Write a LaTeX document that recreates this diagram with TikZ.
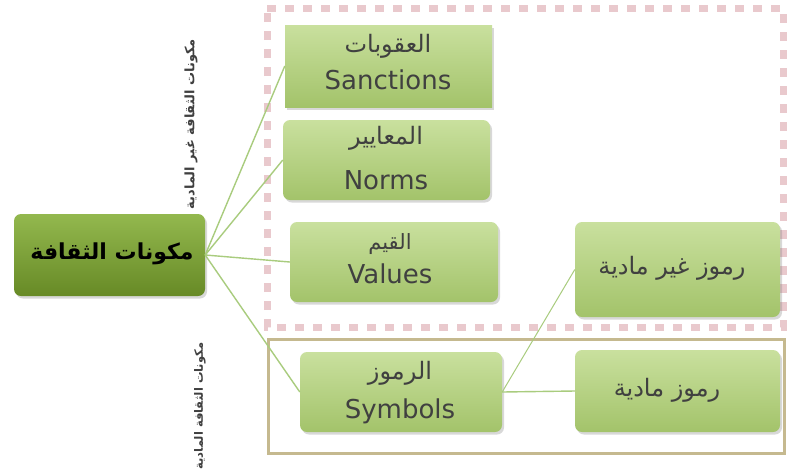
\documentclass[tikz,border=0pt]{standalone}
\usepackage{fontspec}
\setmainfont{DejaVu Sans}
\newfontfamily\arabicfont[Script=Arabic]{DejaVu Sans}
\TeXXeTstate=1
\usetikzlibrary{shadows}
\definecolor{txt}{HTML}{404040}
\definecolor{lnk}{HTML}{A9CC7E}
\definecolor{pinkd}{HTML}{E9C9CD}
\definecolor{tan}{HTML}{C5B98F}
\definecolor{lt}{HTML}{C9E09E}
\definecolor{lb}{HTML}{A3C36A}
\definecolor{ct}{HTML}{93B84E}
\definecolor{cb}{HTML}{678A26}
\tikzset{
  gbox/.style={draw=none, inner sep=0pt, align=center, text=txt,
    top color=lt, bottom color=lb,
    drop shadow={opacity=0.3, shadow xshift=2pt, shadow yshift=-2.5pt}},
  cbox/.style={draw=none, inner sep=0pt, top color=ct, bottom color=cb,
    drop shadow={opacity=0.3, shadow xshift=2pt, shadow yshift=-2.5pt}},
  ar/.style={text=txt, font=\arabicfont\fontsize{24}{28}\selectfont},
  en/.style={text=txt, font=\fontsize{26}{30}\selectfont},
  vert/.style={text=txt, rotate=90, font=\arabicfont\bfseries\fontsize{13}{15}\selectfont},
  link/.style={draw=lnk, line width=1.4pt},
}
\begin{document}
\begin{tikzpicture}[x=1pt,y=-1pt]
\useasboundingbox (0,0) rectangle (787,475);
\fill[white] (0,0) rectangle (787,475);
% frames
\draw[pinkd, line width=7pt, dash pattern=on 9pt off 9pt] (267,8) -- (783,8) -- (783,327) -- (267,327) -- cycle;
\draw[tan, line width=3pt] (268,339) rectangle (784,453);
% boxes
\node[gbox, rounded corners=0pt, minimum width=207pt, minimum height=82pt] (san) at (388.5,66) {};
\node[gbox, rounded corners=7pt, minimum width=207pt, minimum height=80pt] (nor) at (386.5,160) {};
\node[gbox, rounded corners=7pt, minimum width=208pt, minimum height=80pt] (val) at (394,262) {};
\node[gbox, rounded corners=7pt, minimum width=202pt, minimum height=80pt] (sym) at (401,392) {};
\node[gbox, rounded corners=7pt, minimum width=205pt, minimum height=95pt] (nms) at (677.5,269.5) {};
\node[gbox, rounded corners=7pt, minimum width=205pt, minimum height=82pt] (ms) at (677.5,391) {};
\node[cbox, rounded corners=7pt, minimum width=191pt, minimum height=82pt] (cen) at (109.5,255) {};
% texts
\node[ar] (t1) at (388,46) {\beginR العقوبات\endR};
\node[en] (t2) at (388,80) {Sanctions};
\node[ar] (t3) at (386,138) {\beginR المعايير\endR};
\node[en] (t4) at (386,180) {Norms};
\node[ar, font=\arabicfont\fontsize{21}{24}\selectfont] (t5) at (390,244) {\beginR القيم\endR};
\node[en] (t6) at (390,274) {Values};
\node[ar] (t7) at (400,373) {\beginR الرموز\endR};
\node[en] (t8) at (400,411) {Symbols};
\node[ar] (t9) at (672,268) {\beginR رموز غير مادية\endR};
\node[ar] (t10) at (667,390) {\beginR رموز مادية\endR};
\node[text=black, font=\arabicfont\bfseries\fontsize{22}{26}\selectfont] (t11) at (112,254) {\beginR مكونات الثقافة\endR};
\node[vert] (v1) at (191,124) {\beginR مكونات الثقافة غير المادية\endR};
\node[vert, font=\arabicfont\bfseries\fontsize{11.5}{14}\selectfont] (v2) at (200,406) {\beginR مكونات الثقافة المادية\endR};
% links
\draw[link] (cen.east) -- (san.west);
\draw[link] (cen.east) -- (nor.west);
\draw[link] (cen.east) -- (val.west);
\draw[link] (cen.east) -- (sym.west);
\draw[link, line width=1pt] (sym.east) -- (nms.west);
\draw[link] (sym.east) -- (ms.west);
\end{tikzpicture}
\end{document}
